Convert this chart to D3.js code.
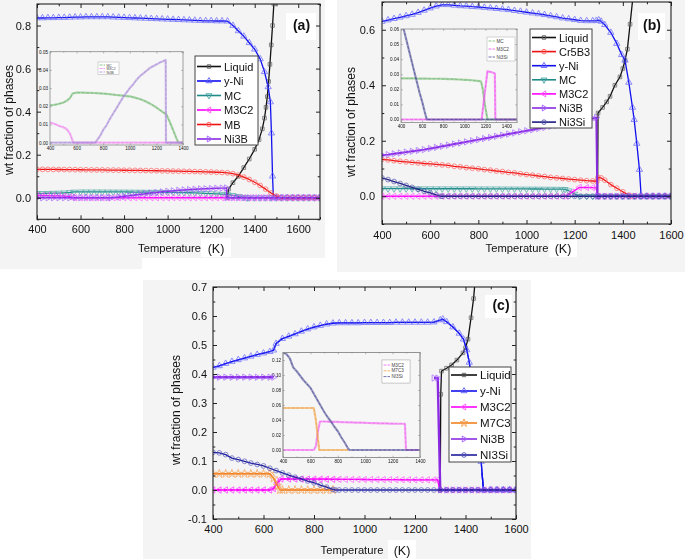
<!DOCTYPE html>
<html><head><meta charset="utf-8">
<script src="https://cdn.jsdelivr.net/npm/d3@7"></script>
<style>body{margin:0;background:#fff}svg{display:block}text{font-family:"Liberation Sans",Arial,sans-serif}</style>
</head><body><svg id="c" width="685" height="559"></svg>
<script>
// helper: values listed on a regular temperature grid -> [T, value] pairs
function run(t0, step, vals){ return vals.map((v,i)=>[t0+i*step, v]); }

// ---------------- DATA ----------------
const xTickLabels = [400,600,800,1000,1200,1400,1600];
const insetXTicks = [400,600,800,1000,1200,1400];

// Panel (a)
const a_names = ["Liquid","y-Ni","MC","M3C2","MB","Ni3B"];
const a_Liquid = [[1275,0],[1280,0.04],[1300,0.07],[1325,0.10],[1350,0.14],[1375,0.18],[1400,0.225],[1420,0.27],[1435,0.32],[1445,0.37],[1452,0.42],[1458,0.47],[1464,0.54],[1470,0.62],[1476,0.71],[1482,0.80],[1488,0.90],[1494,1.0]];
const a_yNi = [...run(400,25,[.835,.835,.836,.836,.837,.837,.838,.839,.839,.840,.840,.840,.840,.840,.839,.838,.837,.836,.835,.834,.833,.832,.831,.830,.829,.828,.827,.826,.825,.824,.823,.822,.822,.821,.821,.820]),
  [1300,.80],[1325,.775],[1350,.75],[1375,.72],[1400,.69],[1425,.645],[1445,.585],[1462,.515],[1472,.445],[1477,.30],[1482,.10],[1486,0],
  ...run(1500,25,[0,0,0,0,0,0,0,0,0])];
const a_MC = [...run(400,25,[.0205,.0207,.021,.0215,.022,.023,.0245]),[570,.027],
  ...run(600,25,[.0275,.0275,.0275,.0274,.0274,.0273,.0272,.0271,.027,.0268,.0266,.0264,.0262,.026,.0258,.0256,.0254,.025,.0245,.024,.0233,.0225,.0215,.0205,.0193,.018,.0167,.0155,.0115,.007,.0025]),
  [1365,0],...run(1375,25,[0,0,0,0,0,0,0,0,0,0,0,0,0,0])];
const a_M3C2 = [...run(400,25,[.011,.0105,.0098,.009,.0085,.0075,.005]),[565,.002],[575,0],
  ...run(600,25,[0,0,0,0,0,0,0,0,0,0, 0,0,0,0,0,0,0,0,0,0, 0,0,0,0,0,0,0,0,0,0, 0,0,0,0,0,0,0,0,0,0, 0,0,0,0,0])];
const a_MB = [...run(400,25,[.132,.132,.1318,.1315,.1313,.131,.1308,.1305,.1302,.130,.1297,.1294,.1291,.1288,.1285,.1282,.1279,.1276,.1272,.1268,.1264,.126,.1255,.125,.1245,.124,.1234,.1228,.1222,.1216,.121,.1203,.1196,.1186,.1175,.116]),
  [1300,.112],[1325,.105],[1350,.096],[1375,.085],[1400,.072],[1425,.057],[1450,.04],[1475,.022],[1500,.008],[1520,0],
  ...run(1550,25,[0,0,0,0,0,0,0])];
const a_Ni3B = [...run(400,25,[0,0,0,0,0,0,0,0,0,0,0,0,0,0]),[740,0],[775,.0035],
  ...run(800,25,[.007,.0095,.013,.016,.019,.022,.025,.0275,.030,.032,.0345,.0365,.038,.0395,.041,.042,.043,.044,.0448]),
  [1270,.0455],[1272,0],...run(1300,25,[0,0,0,0,0,0,0,0,0,0,0,0,0,0,0,0,0])];

// Panel (b)
const b_names = ["Liquid","Cr5B3","y-Ni","MC","M3C2","Ni3B","Ni3Si"];
const b_Liquid = [[1295,0],[1297,0.30],[1316,0.32],[1333,0.34],[1347,0.36],[1367,0.40],[1388,0.43],[1400,0.46],[1409,0.49],[1419,0.53],[1430,0.62],[1441,0.71]];
const b_Cr5B3 = [...run(400,25,[.133,.131,.128,.126,.124,.122,.12,.118,.117,.115,.113,.111,.108,.106,.103,.101,.099,.096,.094,.091,.089,.086,.084,.081,.078,.076,.073,.071,.068,.066,.064,.062,.06,.058,.056,.055]),
  [1292,.054],[1297,.068],[1310,.066],[1325,.058],[1350,.042],[1375,.029],[1400,.016],[1425,.004],[1440,0],
  ...run(1450,25,[0,0,0,0,0,0,0])];
const b_yNi = [...run(400,25,[.630,.635,.640,.645,.650,.655,.662,.670,.678,.685,.690,.690,.688,.686,.685,.683,.682,.680,.678,.676,.674,.672,.669,.666,.663,.660,.657,.654,.650,.646,.642,.639,.636,.633,.632,.632]),
  [1290,.633],[1300,.635],[1310,.63],[1325,.618],[1350,.59],[1375,.55],[1395,.51],[1409,.49],[1425,.41],[1440,.32],[1447,.276],[1458,.19],[1469,.096],[1476,0],
  ...run(1500,25,[0,0,0,0,0])];
const b_MC = [...run(400,25,[.0272,.0272,.0272,.0272,.0272,.0272,.0271,.0271,.0271,.0271,.0271,.027,.027,.027,.027,.027,.0269,.0269,.0268,.0268,.0267,.0266,.0265,.0264,.0263,.0262,.0261,.026,.0258,.0256,.0254]),
  [1160,.025],[1175,.02],[1200,.008],[1220,0],...run(1250,25,[0,0,0,0,0,0,0,0,0,0,0,0,0,0,0])];
const b_M3C2 = [...run(400,25,[0,0,0,0,0,0,0,0,0,0, 0,0,0,0,0,0,0,0,0,0, 0,0,0,0,0,0,0,0,0,0, 0]),
  [1165,0],[1190,.015],[1220,.032],[1250,.0315],[1275,.031],[1290,.0305],[1295,0],
  ...run(1300,25,[0,0,0,0,0,0,0,0,0,0,0,0,0])];
const b_Ni3B = [...run(400,25,[.148,.150,.153,.156,.159,.162,.165,.168,.172,.176,.180,.184,.188,.192,.196,.200,.204,.208,.212,.216,.220,.224,.228,.232,.236,.240,.244,.248,.252,.256,.260,.264,.268,.272,.276,.280]),
  [1290,.284],[1294,0],...run(1300,25,[0,0,0,0,0,0,0,0,0,0,0,0,0])];
const b_Ni3Si = [...run(400,25,[.066,.06,.053,.046,.039,.032,.025,.018,.012,.005]),[645,0],
  ...run(650,25,[0,0,0,0,0,0,0,0,0,0, 0,0,0,0,0,0,0,0,0,0, 0,0,0,0,0,0,0,0,0,0, 0,0,0,0,0,0,0,0,0])];

// Panel (c)
const c_names = ["Liquid","y-Ni","M3C2","M7C3","Ni3B","NI3Si"];
const c_Liquid = [[1300,0],[1302,.33],[1305,.41],[1325,.42],[1345,.431],[1366,.448],[1390,.473],[1400,.49],[1410,.52],[1422,.594],[1432,.66],[1442,.76]];
const c_yNi = [...run(400,25,[.423,.428,.436,.443,.449,.455,.461,.467,.472,.477]),[640,.482],[650,.505],
  ...run(675,25,[.522,.530,.538,.547,.555,.562,.567,.572,.575,.576,.576,.576,.576,.577,.577,.577,.577,.577,.578,.578,.578,.578,.578,.578,.579]),
  [1300,.586],[1310,.589],[1325,.58],[1350,.562],[1375,.54],[1392,.52],[1405,.483],[1415,.44],[1425,.38],[1440,.28],[1452,.18],[1462,.098],[1471,0],
  ...run(1500,25,[0,0,0,0,0])];
const c_M3C2 = [...run(400,25,[0,0,0,0,0,0,0,0,0,0]),[640,.005],[655,.025],[670,.038],
  ...run(700,25,[.038,.0378,.0376,.0375,.0374,.0372,.037,.0369,.0368,.0366,.0365,.0364,.0362,.036,.0359,.0358,.0356,.0355,.0354,.0352,.0351,.035,.035,.035]),
  [1290,.0348],[1298,0],...run(1325,25,[0,0,0,0,0,0,0,0,0,0,0,0])];
const c_M7C3 = [...run(400,25,[.056,.056,.056,.056,.056,.056,.056,.056,.056,.056]),[640,.04],[655,.015],[665,0],
  ...run(675,25,[0,0,0,0,0,0,0,0,0])];
const c_Ni3B = [...run(400,25,[.389,.389,.389,.389,.389,.389,.389,.389,.389,.389]),[640,.389],[650,null],
  [1275,.386],[1290,.386],[1300,0],...run(1325,25,[0,0,0,0,0,0,0,0,0,0,0,0])];
const c_Ni3Si = [...run(400,25,[.130,.128,.122,.110,.105,.099,.093,.088,.083,.075,.067,.059,.051,.044,.038,.031,.025,.017,.010,.002]),[885,0],
  ...run(900,25,[0,0,0,0,0,0,0,0,0,0, 0,0,0,0,0,0,0,0,0,0, 0,0,0,0,0,0,0,0,0])];

// ---------------- DRAWING ----------------
const svg = d3.select("#c");
const BG = "#f4f4f4";
const defs = svg.append("defs");

// background tiles (the figure is a composite of three images)
[[0,0,325,258],[0,258,142,11],[337,0,348,272],[143,280,388,279]].forEach(r=>
  svg.append("rect").attr("x",r[0]).attr("y",r[1]).attr("width",r[2]).attr("height",r[3]).attr("fill",BG));

const SHAPES = {square:[d3.symbolSquare,0,13], up:[d3.symbolTriangle,0,17], down:[d3.symbolTriangle,180,17],
  left:[d3.symbolTriangle,-90,17], right:[d3.symbolTriangle,90,17], circle:[d3.symbolCircle,0,18], star:[d3.symbolStar,0,22]};

function marker(g, shape, cx, cy, color, scale){
  const s = SHAPES[shape];
  g.append("path").attr("d", d3.symbol().type(s[0]).size(s[2]*(scale||1))())
    .attr("transform",`translate(${cx},${cy}) rotate(${s[1]})`)
    .attr("fill","none").attr("stroke",color).attr("stroke-width",0.9);
}

function frameAxes(g, x, y, p, fs, color, tickLen, minorLen){
  const mk = (ax, vals, len, fmt)=> ax.tickValues(vals).tickSize(-len).tickPadding(p.pad||5).tickFormat(fmt||"");
  const style = sel=>{ sel.select(".domain").remove(); sel.selectAll("line").attr("stroke",color).attr("stroke-width",p.tw||1);
    sel.selectAll("text").attr("font-size",fs).attr("fill","#111").attr("font-family",'"Liberation Sans",Arial,sans-serif'); };
  const fx = p.xFmt || (d=>d), fy = p.yFmt;
  g.append("g").attr("transform",`translate(0,${p.B})`).call(mk(d3.axisBottom(x),p.xMajor,tickLen,fx)).call(style);
  g.append("g").attr("transform",`translate(0,${p.B})`).call(mk(d3.axisBottom(x),p.xMinor,minorLen)).call(style);
  g.append("g").attr("transform",`translate(0,${p.T})`).call(mk(d3.axisTop(x),p.xMajor,tickLen)).call(style);
  g.append("g").attr("transform",`translate(0,${p.T})`).call(mk(d3.axisTop(x),p.xMinor,minorLen)).call(style);
  g.append("g").attr("transform",`translate(${p.L},0)`).call(mk(d3.axisLeft(y),p.yMajor,tickLen,fy)).call(style);
  g.append("g").attr("transform",`translate(${p.L},0)`).call(mk(d3.axisLeft(y),p.yMinor,minorLen)).call(style);
  g.append("g").attr("transform",`translate(${p.R},0)`).call(mk(d3.axisRight(y),p.yMajor,tickLen)).call(style);
  g.append("g").attr("transform",`translate(${p.R},0)`).call(mk(d3.axisRight(y),p.yMinor,minorLen)).call(style);
  g.append("rect").attr("x",p.L).attr("y",p.T).attr("width",p.R-p.L).attr("height",p.B-p.T)
    .attr("fill","none").attr("stroke",color).attr("stroke-width",p.fw||1.1);
}

let clipN = 0;
function clip(L,T,R,B){
  const id = "clip"+(clipN++);
  defs.append("clipPath").attr("id",id).append("rect").attr("x",L).attr("y",T).attr("width",R-L).attr("height",B-T);
  return `url(#${id})`;
}

function drawPanel(p){
  const g = svg.append("g");
  const x = d3.scaleLinear().domain(p.xDom).range([p.L,p.R]);
  const y = d3.scaleLinear().domain(p.yDom).range([p.B,p.T]);
  if(p.inset) drawInset(g, p.inset);
  const dg = g.append("g").attr("clip-path", clip(p.L,p.T,p.R,p.B));
  const line = d3.line().defined(d=>d[1]!=null).x(d=>x(d[0])).y(d=>y(d[1]));
  p.series.forEach(s=>{
    dg.append("path").datum(s.data).attr("d",line).attr("fill","none")
      .attr("stroke",s.color).attr("stroke-width",s.w||1.3).attr("stroke-linejoin","round");
    const mg = dg.append("g").attr("opacity",0.75);
    s.data.filter(d=>d[1]!=null).forEach(d=>marker(mg, s.shape, x(d[0]), y(d[1]), s.mcolor));
  });
  frameAxes(g, x, y, p, 11, "#222", 4, 2.3);
  const lg = p.legend;
  g.append("rect").attr("x",lg.x).attr("y",lg.y).attr("width",lg.w).attr("height",lg.h)
    .attr("fill","#fff").attr("stroke","#444").attr("stroke-width",1);
  p.series.forEach((s,i)=>{
    const yy = lg.r0 + i*lg.dy;
    g.append("line").attr("x1",lg.x+2).attr("x2",lg.x+lg.sw).attr("y1",yy).attr("y2",yy)
      .attr("stroke",s.color).attr("stroke-width",s.lw||1.6);
    marker(g, s.shape, lg.x+2+(lg.sw-2)/2, yy, s.mcolor, 0.9);
    g.append("text").attr("x",lg.x+lg.sw+3).attr("y",yy+4).attr("font-size",lg.fs).attr("fill","#111").text(s.name);
  });
  const pl = p.plabel;
  g.append("rect").attr("x",pl.bx).attr("y",pl.by).attr("width",pl.bw).attr("height",pl.bh).attr("fill","#fff");
  g.append("text").attr("x",pl.x).attr("y",pl.y).attr("text-anchor","middle").attr("font-size",14)
    .attr("font-weight","bold").attr("fill","#111").text(pl.t);
  g.append("text").attr("transform",`translate(${p.yt[0]},${p.yt[1]}) rotate(-90)`).attr("text-anchor","middle")
    .attr("dy","0.35em").attr("font-size",12).attr("fill","#111").text("wt fraction of phases");
  g.append("text").attr("x",p.xt[0]).attr("y",p.xt[1]).attr("text-anchor","middle").attr("font-size",11.2)
    .attr("fill","#111").text("Temperature");
  g.append("rect").attr("x",p.kb[0]).attr("y",p.kb[1]).attr("width",p.kb[2]).attr("height",p.kb[3]).attr("fill","#fff");
  g.append("text").attr("x",p.kb[0]+p.kb[2]/2).attr("y",p.xt[1]+1).attr("text-anchor","middle").attr("font-size",12.5)
    .attr("fill","#111").text("(K)");
}

function drawInset(g0, q){
  const g = g0.append("g");
  const x = d3.scaleLinear().domain(q.xDom).range([q.L,q.R]);
  const y = d3.scaleLinear().domain(q.yDom).range([q.B,q.T]);
  g.append("rect").attr("x",q.L).attr("y",q.T).attr("width",q.R-q.L).attr("height",q.B-q.T).attr("fill","#f6f6f6");
  const dg = g.append("g").attr("clip-path", clip(q.L,q.T,q.R,q.B));
  const line = d3.line().defined(d=>d[1]!=null).x(d=>x(d[0])).y(d=>y(d[1]));
  q.series.forEach(s=>{
    dg.append("path").datum(s.data).attr("d",line).attr("fill","none").attr("stroke",s.color)
      .attr("stroke-width",2.2).attr("stroke-opacity",0.55).attr("stroke-linejoin","round");
    dg.append("path").datum(s.data).attr("d",line).attr("fill","none").attr("stroke",s.color)
      .attr("stroke-width",0.7).attr("stroke-dasharray","3,1.5");
  });
  frameAxes(g, x, y, Object.assign({pad:2,tw:0.6,fw:0.8}, q), 4.6, "#8a8a8a", 1.8, 1.1);
  const lg = q.legend;
  g.append("rect").attr("x",lg.x).attr("y",lg.y).attr("width",lg.w).attr("height",lg.h)
    .attr("fill","#fff").attr("stroke","#aaa").attr("stroke-width",0.5);
  q.series.forEach((s,i)=>{
    const yy = lg.r0 + i*lg.dy;
    g.append("line").attr("x1",lg.x+1.5).attr("x2",lg.x+lg.sw).attr("y1",yy).attr("y2",yy)
      .attr("stroke",s.color).attr("stroke-width",0.8).attr("stroke-dasharray","3,1");
    g.append("text").attr("x",lg.x+lg.sw+1.5).attr("y",yy+1.5).attr("font-size",lg.fs).attr("fill","#444").text(s.name);
  });
}

const f1 = d3.format(".1f"), f2 = d3.format(".2f");
const fyC = d=> (Math.abs(d)<1e-9? "0.0" : f1(d).replace("\u2212","-"));

// Panel (a)
drawPanel({
  L:37, R:320, T:4, B:219.3, xDom:[400,1700], yDom:[-0.1,0.9],
  xMajor:xTickLabels, xMinor:[500,700,900,1100,1300,1500,1700],
  yMajor:[0,0.2,0.4,0.6,0.8], yMinor:[-0.1,0.1,0.3,0.5,0.7,0.9], yFmt:f1, pad:6,
  series:[
    {name:a_names[0], data:a_Liquid, color:"#111", mcolor:"#555", shape:"square"},
    {name:a_names[1], data:a_yNi, color:"#1010ee", mcolor:"#5a5aff", shape:"up"},
    {name:a_names[2], data:a_MC, color:"#1f8a8a", mcolor:"#3fa0a0", shape:"down"},
    {name:a_names[3], data:a_M3C2, color:"#ff00ff", mcolor:"#ff55ff", shape:"left"},
    {name:a_names[4], data:a_MB, color:"#ee1111", mcolor:"#ff5555", shape:"circle"},
    {name:a_names[5], data:a_Ni3B, color:"#8a2be2", mcolor:"#9f5cff", shape:"right", w:1.5}
  ],
  legend:{x:195, y:56, w:63, h:89, r0:66.5, dy:14.5, sw:26, fs:11},
  plabel:{t:"(a)", x:301.5, y:30, bx:286, by:13, bw:30, bh:27},
  yt:[9,120], xt:[169.5,252], kb:[201,238,30,19],
  inset:{L:50, R:183, T:51.7, B:145, xDom:[400,1400], yDom:[-0.0013,0.05],
    xMajor:insetXTicks, xMinor:[500,700,900,1100,1300], yMajor:[0,0.01,0.02,0.03,0.04,0.05], yMinor:[], yFmt:f2,
    series:[{name:"MC", data:a_MC, color:"#6fb86f"},{name:"M3C2", data:a_M3C2, color:"#ee82ee"},{name:"Ni3B", data:a_Ni3B, color:"#a98ad8"}],
    legend:{x:98, y:62, w:21, h:12.5, r0:65, dy:3.5, sw:7, fs:3.4}}
});

// Panel (b)
drawPanel({
  L:382, R:671, T:2, B:224, xDom:[400,1600], yDom:[-0.1,0.7],
  xMajor:xTickLabels, xMinor:[500,700,900,1100,1300,1500],
  yMajor:[0,0.2,0.4,0.6], yMinor:[-0.1,0.1,0.3,0.5,0.7], yFmt:f1, pad:7,
  series:[
    {name:b_names[0], data:b_Liquid, color:"#111", mcolor:"#555", shape:"square"},
    {name:b_names[1], data:b_Cr5B3, color:"#ee1111", mcolor:"#ff5555", shape:"circle"},
    {name:b_names[2], data:b_yNi, color:"#1010ee", mcolor:"#5a5aff", shape:"up"},
    {name:b_names[3], data:b_MC, color:"#1f8a8a", mcolor:"#3fa0a0", shape:"down"},
    {name:b_names[4], data:b_M3C2, color:"#ff00ff", mcolor:"#ff55ff", shape:"left"},
    {name:b_names[5], data:b_Ni3B, color:"#8a2be2", mcolor:"#9f5cff", shape:"right", w:2},
    {name:b_names[6], data:b_Ni3Si, color:"#1c1c80", mcolor:"#5050a8", shape:"circle"}
  ],
  legend:{x:530, y:29, w:62, h:99, r0:37.5, dy:14.1, sw:26, fs:11},
  plabel:{t:"(b)", x:652, y:30, bx:638, by:13, bw:27, bh:27},
  yt:[351,122], xt:[517,252], kb:[549,240,28,17],
  inset:{L:401, R:517, T:29, B:122.5, xDom:[400,1500], yDom:[-0.002,0.06],
    xMajor:insetXTicks, xMinor:[500,700,900,1100,1300,1500], yMajor:[0,0.01,0.02,0.03,0.04,0.05,0.06], yMinor:[], yFmt:f2,
    series:[{name:"MC", data:b_MC, color:"#6fb86f"},{name:"M3C2", data:b_M3C2, color:"#f050f0"},{name:"Ni3Si", data:b_Ni3Si, color:"#4c4c96"}],
    legend:{x:487, y:37, w:28, h:24, r0:41, dy:8, sw:8, fs:4.6}}
});

// Panel (c)
drawPanel({
  L:213, R:516, T:287, B:519, xDom:[400,1600], yDom:[-0.1,0.7],
  xMajor:xTickLabels, xMinor:[500,700,900,1100,1300,1500],
  yMajor:[-0.1,0,0.1,0.2,0.3,0.4,0.5,0.6,0.7], yMinor:[-0.05,0.05,0.15,0.25,0.35,0.45,0.55,0.65], yFmt:fyC, pad:6,
  series:[
    {name:c_names[0], data:c_Liquid, color:"#111", mcolor:"#555", shape:"square"},
    {name:c_names[1], data:c_yNi, color:"#1010ee", mcolor:"#5a5aff", shape:"up"},
    {name:c_names[2], data:c_M3C2, color:"#ff00ff", mcolor:"#ff55ff", shape:"left"},
    {name:c_names[3], data:c_M7C3, color:"#f08020", mcolor:"#f59a4a", shape:"star"},
    {name:c_names[4], data:c_Ni3B, color:"#8a2be2", mcolor:"#9f5cff", shape:"right", w:2.4},
    {name:c_names[5], data:c_Ni3Si, color:"#1c1c9a", mcolor:"#5050b8", shape:"circle"}
  ],
  legend:{x:449, y:367, w:62, h:95, r0:375, dy:16, sw:28, fs:11.5},
  plabel:{t:"(c)", x:501, y:310, bx:485, by:295, bw:27, bh:23},
  yt:[176,410], xt:[352,554], kb:[388,540,28,19],
  inset:{L:283, R:420, T:352.5, B:457.5, xDom:[400,1400], yDom:[-0.01,0.13],
    xMajor:insetXTicks, xMinor:[500,700,900,1100,1300], yMajor:[0,0.02,0.04,0.06,0.08,0.10,0.12], yMinor:[], yFmt:f2,
    series:[{name:"M3C2", data:c_M3C2, color:"#f060f0"},{name:"M7C3", data:c_M7C3, color:"#f0a040"},{name:"NI3Si", data:c_Ni3Si, color:"#4c4c96"}],
    legend:{x:382, y:360, w:28, h:23, r0:365, dy:5.8, sw:8, fs:4.6}}
});
</script></body></html>
